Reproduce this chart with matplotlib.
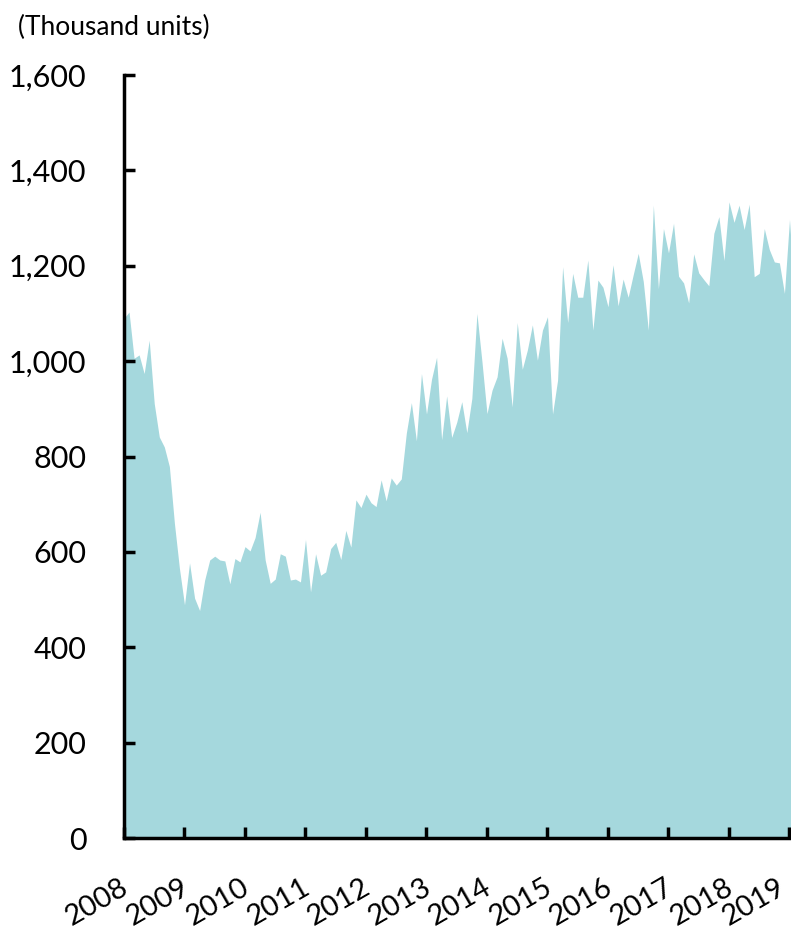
import numpy as np
import matplotlib
matplotlib.use('Agg')
import matplotlib.pyplot as plt

# monthly sales, Jan 2008 .. Feb 2019 (thousand units)
v2008 = [1090, 1103, 1006, 1013, 974, 1044, 911, 841, 820, 779, 660, 565]
v2009 = [489, 577, 503, 477, 541, 583, 591, 583, 581, 533, 586, 579]
v2010 = [611, 602, 630, 683, 583, 534, 543, 596, 591, 541, 543, 537]
v2011 = [626, 516, 596, 551, 558, 607, 620, 584, 645, 610, 709, 693]
v2012 = [721, 703, 695, 751, 707, 755, 740, 753, 849, 913, 833, 974]
v2013 = [889, 962, 1008, 835, 927, 840, 872, 915, 850, 922, 1100, 999]
v2014 = [890, 939, 967, 1048, 1006, 904, 1081, 983, 1023, 1076, 1002, 1065]
v2015 = [1093, 889, 960, 1198, 1081, 1184, 1134, 1134, 1212, 1065, 1170, 1155]
v2016 = [1114, 1202, 1116, 1172, 1134, 1181, 1226, 1167, 1065, 1327, 1152, 1278]
v2017 = [1227, 1289, 1178, 1164, 1122, 1225, 1185, 1171, 1158, 1268, 1303, 1211]
v2018 = [1334, 1291, 1327, 1276, 1329, 1177, 1184, 1278, 1234, 1208, 1206, 1142]
v2019 = [1297, 1140]

years = ['2008', '2009', '2010', '2011', '2012', '2013', '2014', '2015',
         '2016', '2017', '2018', '2019']
y_ticks = [0, 200, 400, 600, 800, 1000, 1200, 1400, 1600]

values = np.array(v2008 + v2009 + v2010 + v2011 + v2012 + v2013 + v2014
                  + v2015 + v2016 + v2017 + v2018 + v2019)
months = np.arange(len(values))
year_pos = np.arange(len(years)) * 12

plt.rcParams['font.family'] = ['Lato', 'DejaVu Sans']

W, H = 791, 935
fig = plt.figure(figsize=(W / 100, H / 100), dpi=100)
ax = fig.add_axes([124 / W, (H - 838) / H, (791 - 124) / W, (838 - 75) / H])

ax.fill_between(months, values, 0, color='#a5d8dd', linewidth=0)

ax.set_xlim(0, 132.3)
ax.set_ylim(0, 1600)

ax.set_yticks(y_ticks)
ax.set_yticklabels([f'{t:,}' for t in y_ticks], fontsize=22)
ax.set_xticks(year_pos)
ax.set_xticklabels([])

# year labels, rotated; the last one pulled in a bit so it stays inside
for i, (pos, yr) in enumerate(zip(year_pos, years)):
    dx = -9 if i == len(years) - 1 else -3
    ax.annotate(yr, xy=(pos, 0), xycoords=('data', 'axes fraction'),
                xytext=(dx, -26), textcoords='offset points',
                fontsize=21, rotation=30, rotation_mode='anchor',
                ha='right', va='top')

for s in ['top', 'right']:
    ax.spines[s].set_visible(False)
for s in ['left', 'bottom']:
    ax.spines[s].set_linewidth(2.5)
    ax.spines[s].set_color('black')

ax.tick_params(axis='y', direction='in', length=8, width=2.5, pad=27)
ax.tick_params(axis='x', direction='in', length=8, width=2.5)

fig.text(18 / W, 1 - 27 / H, '(Thousand units)', fontsize=19, va='center', ha='left')

fig.savefig('out.png', dpi=100)
